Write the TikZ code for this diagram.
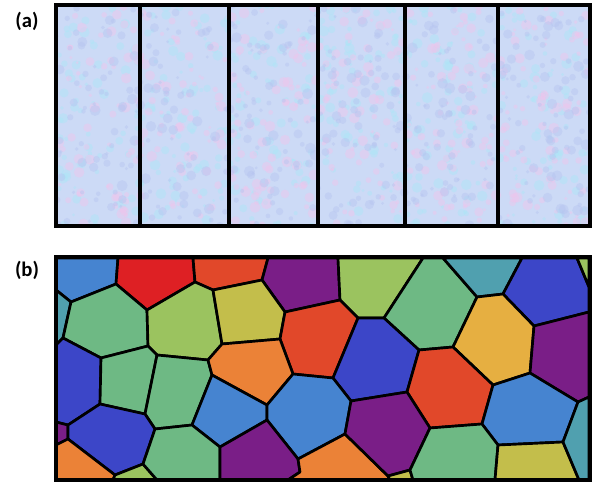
\documentclass[tikz,border=0pt]{standalone}
\usepackage{fontspec}
\setsansfont{Carlito}
\usetikzlibrary{positioning}

% cell colours
\definecolor{cblue}{RGB}{70,132,208}
\definecolor{cdarkblue}{RGB}{60,70,200}
\definecolor{cred}{RGB}{222,32,36}
\definecolor{cscarlet}{RGB}{225,72,42}
\definecolor{cpurple}{RGB}{122,30,135}
\definecolor{cgreen}{RGB}{110,185,132}
\definecolor{clime}{RGB}{155,195,95}
\definecolor{colive}{RGB}{195,190,75}
\definecolor{corange}{RGB}{235,130,55}
\definecolor{cgold}{RGB}{230,175,65}
\definecolor{cteal}{RGB}{80,160,175}
% pastel texture colours
\definecolor{pbase}{RGB}{204,218,246}
\definecolor{ppink}{RGB}{240,196,236}
\definecolor{pcyan}{RGB}{172,230,248}
\definecolor{pblue}{RGB}{182,196,240}

\tikzset{
  cell/.style={draw=black, line width=2pt, line join=round},
  frame/.style={draw=black, line width=2.5pt},
  panellabel/.style={font=\sffamily\bfseries\fontsize{15.5}{18}\selectfont}
}

\begin{document}
\begin{tikzpicture}[x=0.75pt, y=-0.75pt]

\useasboundingbox (0,0) rectangle (592,482);

% Labels
\node[panellabel] (lbla) at (27,21) {(a)};
\node[panellabel] (lblb) at (27,270) {(b)};

% Panel (a): pastel texture
\begin{scope}
\clip (56,5) rectangle (590,226);
\fill[pbase] (56,5) rectangle (590,226);
\pgfmathsetseed{11}
\foreach \blot in {pcyan,ppink,pblue}{
  \foreach \k in {1,...,450}{
    \pgfmathsetmacro{\px}{56+534*rnd}
    \pgfmathsetmacro{\py}{5+221*rnd}
    \pgfmathsetmacro{\pr}{1.5+4*rnd}
    \fill[\blot, opacity=0.45] (\px,\py) circle[radius=\pr];
  }
}
\end{scope}

% Panel (a): six columns
\draw[frame] (56,5) rectangle (590,226);
\foreach \xd in {140,229,318,405,498}
  \draw[frame] (\xd,5) -- (\xd,226);

% Panel (b): grains, top row
\filldraw[cell, fill=cblue] (56,258) -- (118,258) -- (116,284) -- (71,302) -- (56,290) -- cycle;
\filldraw[cell, fill=cred] (118,258) -- (193,258) -- (195,282) -- (147,310) -- (116,284) -- cycle;
\filldraw[cell, fill=cscarlet] (193,258) -- (268,258) -- (262,280) -- (213,290) -- (195,282) -- cycle;
\filldraw[cell, fill=cpurple] (268,258) -- (338,258) -- (340,300) -- (285,312) -- (262,280) -- cycle;
\filldraw[cell, fill=clime] (338,258) -- (423,258) -- (384,318) -- (358,318) -- (340,300) -- cycle;
\filldraw[cell, fill=cgreen] (423,258) -- (443,258) -- (477,297) -- (453,347) -- (419,350) -- (384,318) -- cycle;
\filldraw[cell, fill=cteal] (443,258) -- (522,258) -- (503,294) -- (477,297) -- cycle;
\filldraw[cell, fill=cdarkblue] (522,258) -- (577,258) -- (589,287) -- (589,312) -- (534,326) -- (503,294) -- cycle;
\filldraw[cell, fill=clime] (577,258) -- (589,258) -- (589,287) -- cycle;

% Panel (b): grains, middle
\filldraw[cell, fill=cteal] (56,290) -- (71,302) -- (63,338) -- (56,345) -- cycle;
\filldraw[cell, fill=cgreen] (71,302) -- (116,284) -- (147,310) -- (148,346) -- (101,358) -- (63,338) -- cycle;
\filldraw[cell, fill=clime] (147,310) -- (195,282) -- (213,290) -- (222,344) -- (208,360) -- (157,355) -- (148,346) -- cycle;
\filldraw[cell, fill=colive] (213,290) -- (262,280) -- (285,312) -- (280,339) -- (222,344) -- cycle;
\filldraw[cell, fill=cscarlet] (285,312) -- (340,300) -- (358,318) -- (333,378) -- (293,374) -- (280,339) -- cycle;
\filldraw[cell, fill=cdarkblue] (358,318) -- (384,318) -- (419,350) -- (407,392) -- (351,401) -- (333,378) -- cycle;
\filldraw[cell, fill=cgold] (477,297) -- (503,294) -- (534,326) -- (530,373) -- (493,385) -- (453,347) -- cycle;
\filldraw[cell, fill=cpurple] (534,326) -- (589,312) -- (589,397) -- (578,402) -- (530,373) -- cycle;
\filldraw[cell, fill=cscarlet] (419,350) -- (453,347) -- (493,385) -- (482,424) -- (430,428) -- (407,392) -- cycle;
\filldraw[cell, fill=cdarkblue] (56,345) -- (63,338) -- (101,358) -- (100,404) -- (68,425) -- (56,422) -- cycle;
\filldraw[cell, fill=cgreen] (101,358) -- (148,346) -- (157,355) -- (145,414) -- (100,404) -- cycle;
\filldraw[cell, fill=cgreen] (157,355) -- (208,360) -- (212,375) -- (192,425) -- (155,429) -- (145,414) -- cycle;
\filldraw[cell, fill=corange] (222,344) -- (280,339) -- (293,374) -- (267,405) -- (212,375) -- (208,360) -- cycle;
\filldraw[cell, fill=cblue] (212,375) -- (267,405) -- (267,420) -- (220,447) -- (192,425) -- cycle;
\filldraw[cell, fill=cblue] (293,374) -- (333,378) -- (351,401) -- (345,434) -- (298,459) -- (267,420) -- (267,405) -- cycle;
\filldraw[cell, fill=cblue] (493,385) -- (530,373) -- (578,402) -- (563,442) -- (498,445) -- (482,424) -- cycle;

% Panel (b): grains, bottom row
\filldraw[cell, fill=cpurple] (56,422) -- (68,425) -- (68,439) -- (56,445) -- cycle;
\filldraw[cell, fill=cdarkblue] (68,425) -- (100,404) -- (145,414) -- (155,429) -- (143,464) -- (115,475) -- (68,439) -- cycle;
\filldraw[cell, fill=corange] (56,445) -- (68,439) -- (115,475) -- (113,480) -- (56,480) -- cycle;
\filldraw[cell, fill=clime] (115,475) -- (143,464) -- (157,480) -- (113,480) -- cycle;
\filldraw[cell, fill=cgreen] (155,429) -- (192,425) -- (220,447) -- (220,480) -- (157,480) -- (143,464) -- cycle;
\filldraw[cell, fill=cpurple] (267,420) -- (298,459) -- (300,472) -- (288,480) -- (220,480) -- (220,447) -- cycle;
\filldraw[cell, fill=corange] (298,459) -- (345,434) -- (388,476) -- (390,480) -- (288,480) -- (300,472) -- cycle;
\filldraw[cell, fill=cpurple] (351,401) -- (407,392) -- (430,428) -- (410,470) -- (388,476) -- (345,434) -- cycle;
\filldraw[cell, fill=colive] (388,476) -- (410,470) -- (413,480) -- (390,480) -- cycle;
\filldraw[cell, fill=cgreen] (430,428) -- (482,424) -- (498,445) -- (495,480) -- (413,480) -- (410,470) -- cycle;
\filldraw[cell, fill=colive] (498,445) -- (563,442) -- (579,480) -- (495,480) -- cycle;
\filldraw[cell, fill=cteal] (578,402) -- (589,397) -- (589,480) -- (579,480) -- (563,442) -- cycle;

% Panel (b): outer frame
\draw[frame] (56,257) rectangle (590,480);

\end{tikzpicture}
\end{document}
